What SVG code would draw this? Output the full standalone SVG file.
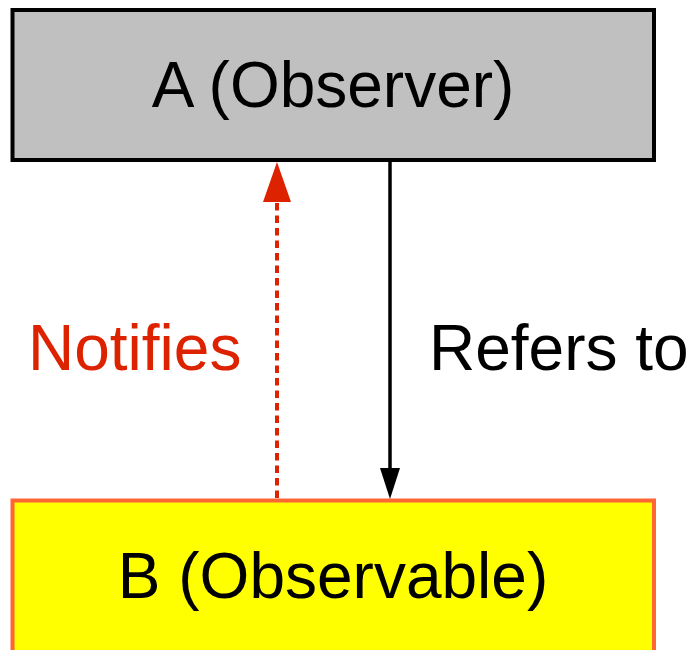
<svg xmlns="http://www.w3.org/2000/svg" width="691" height="650" viewBox="0 0 691 650">
  <style>
    .lbl { font-family: "Liberation Sans", Arial, sans-serif; font-size: 64px; }
    .node-a { fill: #c0c0c0; stroke: #000; stroke-width: 4; }
    .node-b { fill: #ffff00; stroke: #ff6633; stroke-width: 4; }
  </style>

  <g id="node-a">
    <rect class="node-a" x="12.5" y="10" width="641.5" height="150"/>
    <text class="lbl" x="333" y="107" text-anchor="middle" fill="#000">A (Observer)</text>
  </g>

  <g id="node-b">
    <rect class="node-b" x="12.5" y="500.5" width="641.5" height="170"/>
    <text class="lbl" x="333" y="598" text-anchor="middle" fill="#000">B (Observable)</text>
  </g>

  <g id="connectors">
    <!-- notification path from B up to A -->
    <line x1="277" y1="498" x2="277" y2="200" stroke="#dd2200" stroke-width="4" stroke-dasharray="7.5,5"/>
    <path d="M277,162 L291,202 L263,202 Z" fill="#dd2200"/>
    <text class="lbl" x="28" y="370" fill="#dd2200">Notifies</text>

    <!-- reference from A down to B -->
    <line x1="390" y1="160" x2="390" y2="472" stroke="#000" stroke-width="3.5"/>
    <path d="M390,499 L380,468 L400,468 Z" fill="#000"/>
    <text class="lbl" x="429" y="370" fill="#000">Refers to</text>
  </g>
</svg>
